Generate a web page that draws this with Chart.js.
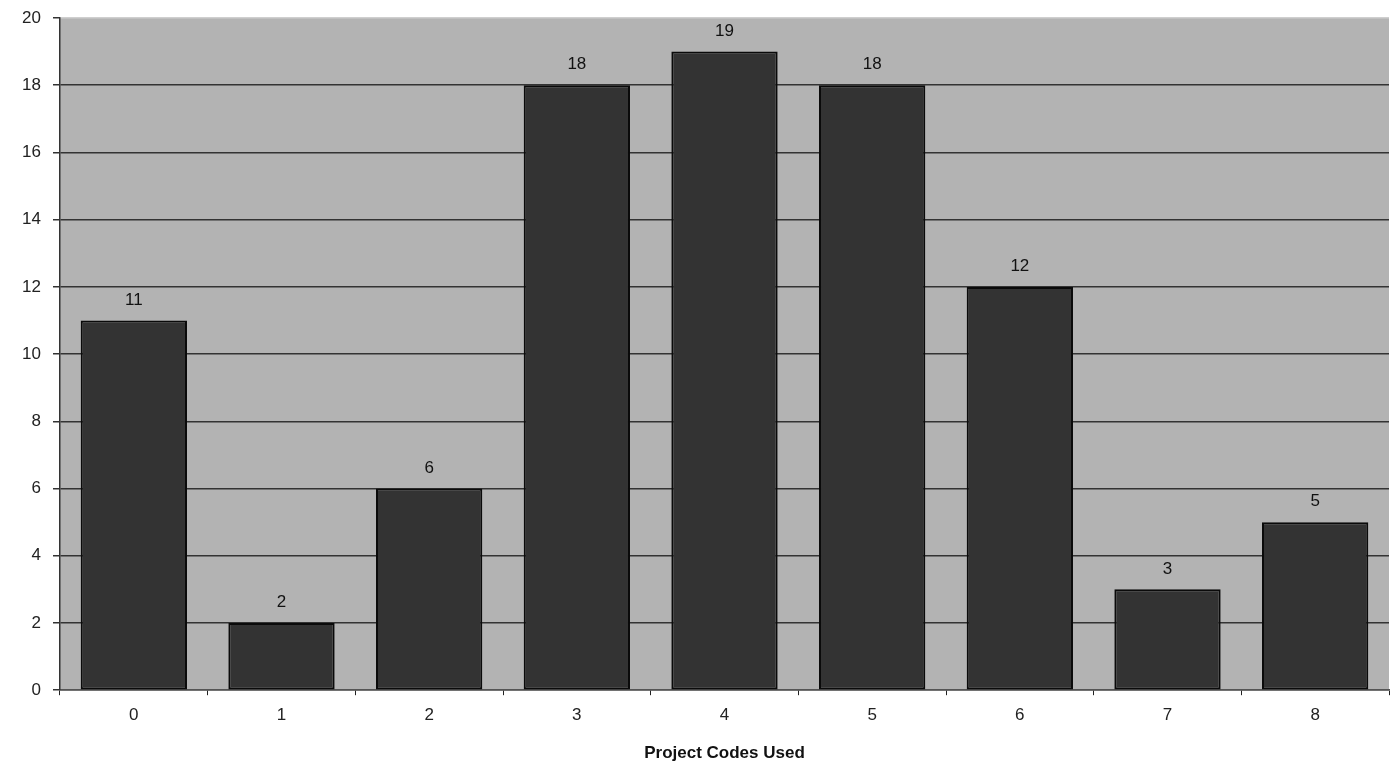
<!DOCTYPE html>
<html>
<head>
<meta charset="utf-8">
<script src="https://cdn.jsdelivr.net/npm/chart.js@4"></script>
<style>
  body { margin: 0; background: #fff; }
  #wrap { width: 1390px; height: 772px; }
</style>
</head>
<body>
<div id="wrap"><canvas id="chart" width="1390" height="772"></canvas></div>
<script>
const categories = ["0", "1", "2", "3", "4", "5", "6", "7", "8"];
const counts = [11, 2, 6, 18, 19, 18, 12, 3, 5];
const yTicks = [0, 2, 4, 6, 8, 10, 12, 14, 16, 18, 20];

const FONT = "'Liberation Sans', Arial, sans-serif";

// grey plot area behind the bars
const plotBackground = {
    id: "plotBackground",
    beforeDraw(chart) {
        const { ctx, chartArea } = chart;
        ctx.save();
        ctx.fillStyle = "#b3b3b3";
        ctx.fillRect(chartArea.left, chartArea.top, chartArea.right - chartArea.left, chartArea.bottom - chartArea.top);
        ctx.restore();
    }
};

// value labels above each bar
const valueLabels = {
    id: "valueLabels",
    afterDatasetsDraw(chart) {
        const { ctx } = chart;
        const meta = chart.getDatasetMeta(0);
        ctx.save();
        ctx.font = "17px " + FONT;
        ctx.fillStyle = "#111";
        ctx.textAlign = "center";
        ctx.textBaseline = "bottom";
        meta.data.forEach((bar, i) => {
            ctx.fillText(String(counts[i]), bar.x, bar.y - 12);
        });
        ctx.restore();
    }
};

new Chart(document.getElementById("chart"), {
    type: "bar",
    data: {
        labels: categories,
        datasets: [{
            data: counts,
            backgroundColor: "#333333",
            borderColor: "#0a0a0a",
            borderWidth: 2,
            borderSkipped: false,
            categoryPercentage: 1,
            barPercentage: 0.72
        }]
    },
    options: {
        responsive: false,
        animation: false,
        layout: { padding: { top: 18, right: 1, bottom: 8, left: 0 } },
        plugins: {
            legend: { display: false },
            tooltip: { enabled: false }
        },
        scales: {
            x: {
                offset: true,
                grid: {
                    offset: true,
                    drawOnChartArea: false,
                    drawTicks: true,
                    tickLength: 5,
                    color: "#222"
                },
                border: { color: "#555", width: 1.5 },
                ticks: {
                    color: "#222",
                    font: { family: FONT, size: 17 },
                    padding: 10
                },
                title: {
                    display: true,
                    text: "Project Codes Used",
                    color: "#111",
                    font: { family: FONT, size: 17, weight: "bold" },
                    padding: { top: 8, bottom: 0 }
                }
            },
            y: {
                min: 0,
                max: 20,
                afterFit(scale) {
                    scale.width = 60;
                    scale.paddingTop = 0;
                },
                afterBuildTicks(scale) { scale.ticks = yTicks.map(v => ({ value: v })); },
                grid: {
                    color: ctx => ctx.tick && ctx.tick.value === 20 ? "#cfcfcf" : "#333333",
                    lineWidth: 1.5,
                    tickLength: 7,
                    tickColor: "#333"
                },
                border: { color: "#333", width: 1.5 },
                ticks: {
                    color: "#222",
                    font: { family: FONT, size: 17 },
                    padding: 12
                }
            }
        }
    },
    plugins: [plotBackground, valueLabels]
});
</script>
</body>
</html>
